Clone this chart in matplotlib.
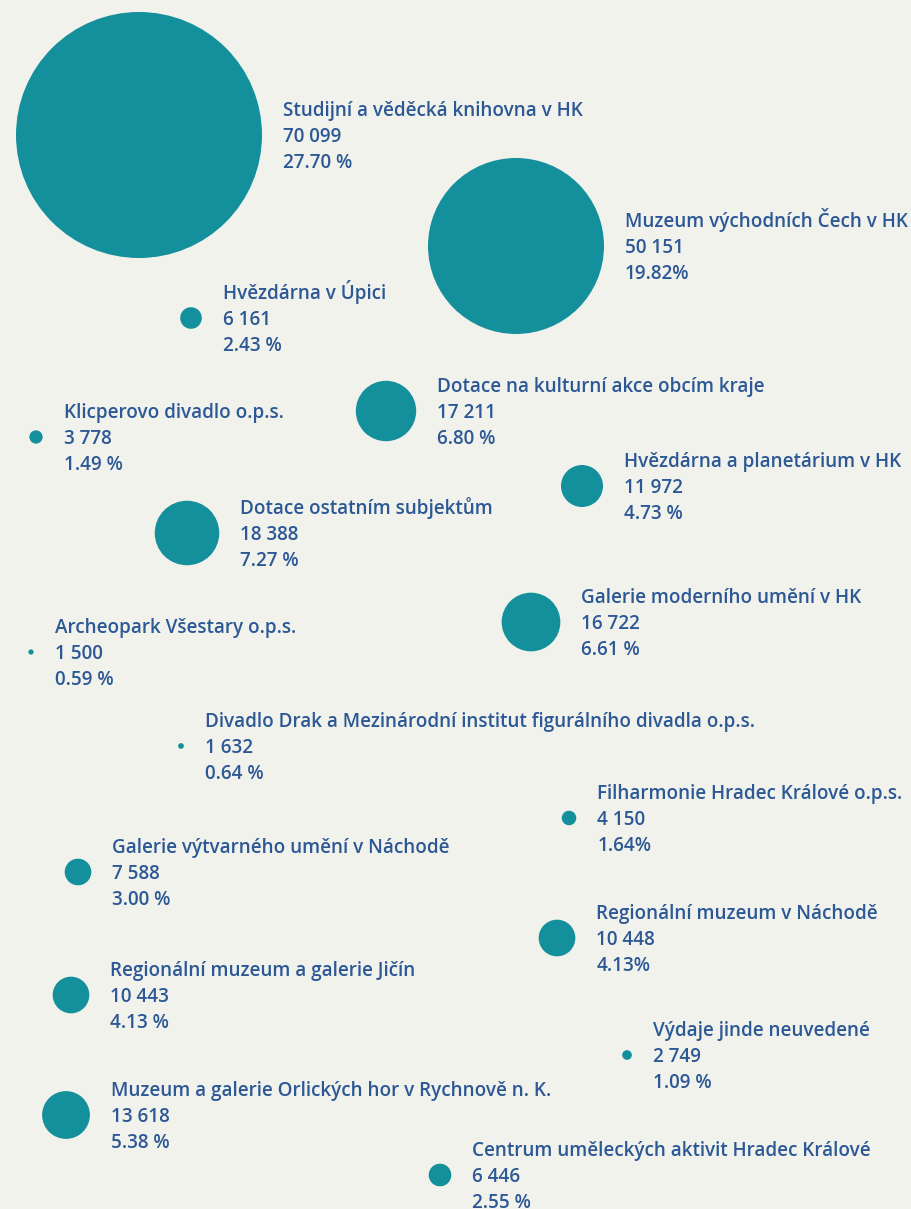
import matplotlib
matplotlib.use("Agg")
import matplotlib.pyplot as plt
from matplotlib.patches import Circle

# data
names = [
    "Studijní a věděcká knihovna v HK",
    "Muzeum východních Čech v HK",
    "Hvězdárna v Úpici",
    "Dotace na kulturní akce obcím kraje",
    "Klicperovo divadlo o.p.s.",
    "Hvězdárna a planetárium v HK",
    "Dotace ostatním subjektům",
    "Galerie moderního umění v HK",
    "Archeopark Všestary o.p.s.",
    "Divadlo Drak a Mezinárodní institut figurálního divadla o.p.s.",
    "Filharmonie Hradec Králové o.p.s.",
    "Galerie výtvarného umění v Náchodě",
    "Regionální muzeum v Náchodě",
    "Regionální muzeum a galerie Jičín",
    "Výdaje jinde neuvedené",
    "Muzeum a galerie Orlických hor v Rychnově n. K.",
    "Centrum uměleckých aktivit Hradec Králové",
]
values = [70099, 50151, 6161, 17211, 3778, 11972, 18388, 16722, 1500,
          1632, 4150, 7588, 10448, 10443, 2749, 13618, 6446]
pct_labels = ["27.70 %", "19.82%", "2.43 %", "6.80 %", "1.49 %", "4.73 %",
              "7.27 %", "6.61 %", "0.59 %", "0.64 %", "1.64%", "3.00 %",
              "4.13%", "4.13 %", "1.09 %", "5.38 %", "2.55 %"]

# layout: bubble centres in pixel units
centres = [(139, 135), (516, 246), (191, 318), (386, 411), (36, 437),
           (582, 486), (187, 533), (531, 622), (31, 652), (181, 746),
           (569, 818), (78, 872), (557, 938), (71, 995), (627, 1055),
           (66, 1115), (440, 1175)]

BG = "#f2f2ec"
BUBBLE = "#148f9c"
TEXT = "#2c5896"
R_MAX = 123  # radius of the biggest bubble, radius is linear in value

plt.rcParams["font.family"] = ["Open Sans", "DejaVu Sans"]

fig = plt.figure(figsize=(9.11, 12.09), dpi=100)
fig.patch.set_facecolor(BG)
ax = fig.add_axes([0, 0, 1, 1])
ax.set_facecolor(BG)
ax.set_xlim(0, 911)
ax.set_ylim(1209, 0)
ax.axis("off")

vmax = max(values)
for name, v, pct, (cx, cy) in zip(names, values, pct_labels, centres):
    r = R_MAX * v / vmax
    ax.add_patch(Circle((cx, cy), r, color=BUBBLE, lw=0))
    tx = cx + r + 21
    num = f"{v:,}".replace(",", " ")
    for dy, s in [(-19, name), (7, num), (33, pct)]:
        ax.text(tx, cy + dy, s, color=TEXT, fontsize=13.6, fontweight="semibold",
                ha="left", va="baseline")

fig.savefig("out.png", dpi=100, facecolor=BG)
